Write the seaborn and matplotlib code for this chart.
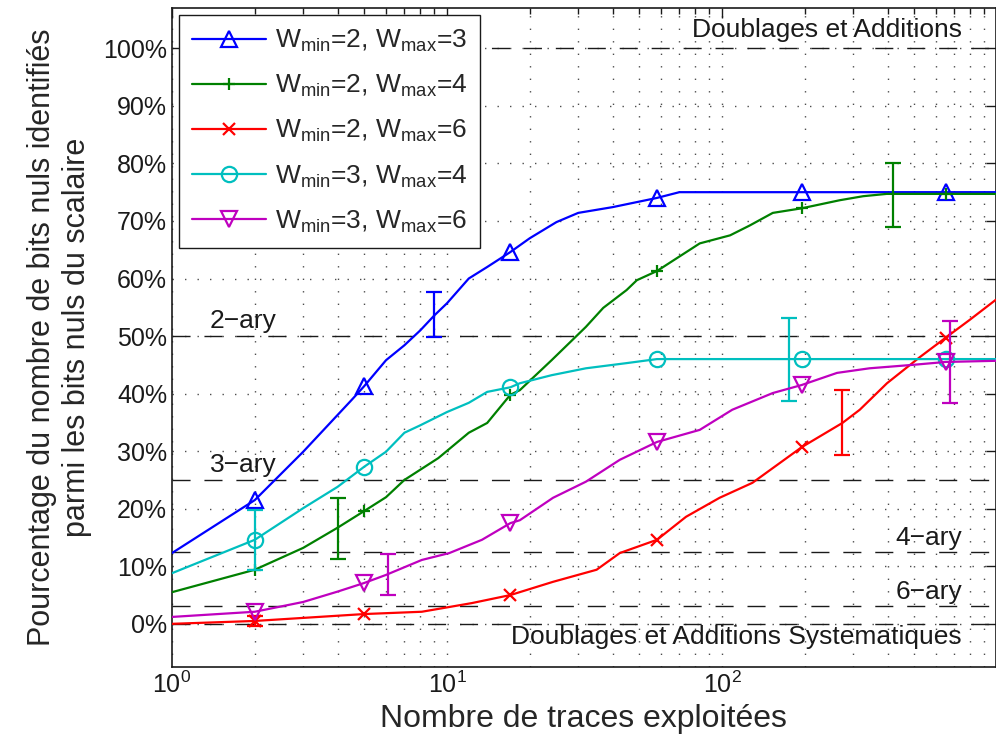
import matplotlib
matplotlib.use("Agg")
import matplotlib.pyplot as plt
import seaborn as sns
from matplotlib.ticker import FixedLocator, FuncFormatter, LogLocator

# --- data (values in %) ---
marker_x = [2, 5, 17, 58, 195, 650]

x_23 = [1, 2, 3, 4.5, 5, 6, 7, 8, 9, 10, 12, 14, 17, 20, 25, 30, 40, 58, 70, 195, 650, 990]
y_23 = [12.3, 21.5, 29.9, 38.9, 41.3, 45.8, 48.4, 51, 53.6, 55.7, 60, 62, 64.6, 67, 69.8,
        71.4, 72.4, 74, 75, 75, 75, 75]

x_24 = [1, 2, 3, 4, 5, 6, 7, 9.3, 12, 14, 17, 18.4, 24, 32, 37, 45, 49, 58, 83, 107, 126,
        153, 195, 268, 326, 397, 650, 990]
y_24 = [5.5, 9.4, 13.2, 16.7, 19.6, 22, 25, 28.8, 33.2, 34.9, 39.8, 40.6, 45.8, 51.6, 54.9,
        58, 59.7, 61.3, 66.1, 67.5, 69.2, 71.4, 72.2, 73.6, 74.3, 74.7, 74.7, 74.7]

x_26 = [1, 2, 5, 8.1, 12.3, 17, 24.3, 35, 42.5, 58, 74, 98, 129, 195, 274, 317, 398, 526,
        650, 795, 990]
y_26 = [0, 0.5, 1.7, 2.1, 3.6, 5, 7.3, 9.4, 12.3, 14.6, 18.6, 21.9, 24.5, 30.7, 34.9, 37.2,
        41.8, 46.4, 49.7, 52.8, 56.3]

x_34 = [1, 2, 3, 4, 5, 6, 7, 8, 10, 12, 14, 17, 18.4, 24, 32, 45, 58, 195, 650, 990]
y_34 = [8.8, 14.6, 20.1, 23.8, 27.3, 29.9, 33.2, 34.5, 36.8, 38.4, 40.3, 41.1, 41.8, 43.2,
        44.4, 45.3, 46, 46, 46, 46]

x_36 = [1, 2, 3, 4, 5, 6, 8.1, 10.2, 13.4, 17, 18.4, 24.3, 32, 42.5, 58, 83, 109, 153, 195,
        262, 344, 495, 650, 990]
y_36 = [1.2, 2.1, 3.8, 5.6, 7.1, 8.5, 11.1, 12.3, 14.6, 17.5, 18, 21.9, 24.7, 28.5, 31.6,
        33.7, 37.2, 40.1, 41.5, 43.6, 44.4, 45, 45.5, 45.7]

# error bars: x, centre, half width
err_23 = ([9], [53.7], [3.9])
err_24 = ([4, 420], [16.6, 74.5], [5.3, 5.5])
err_26 = ([2, 274], [0.5, 35], [0.8, 5.6])
err_34 = ([2, 175], [14.6, 46], [5.2, 7.2])
err_36 = ([6.1, 675], [8.6, 45.5], [3.6, 7.1])

ref_levels = [0, 3.125, 12.5, 25, 50, 100]

series = [
    (x_23, y_23, err_23, "#0000FF", "^", r"W$_{\mathrm{min}}$=2, W$_{\mathrm{max}}$=3"),
    (x_24, y_24, err_24, "#008000", "+", r"W$_{\mathrm{min}}$=2, W$_{\mathrm{max}}$=4"),
    (x_26, y_26, err_26, "#FF0000", "x", r"W$_{\mathrm{min}}$=2, W$_{\mathrm{max}}$=6"),
    (x_34, y_34, err_34, "#00BFBF", "o", r"W$_{\mathrm{min}}$=3, W$_{\mathrm{max}}$=4"),
    (x_36, y_36, err_36, "#BF00BF", "v", r"W$_{\mathrm{min}}$=3, W$_{\mathrm{max}}$=6"),
]

sns.set_theme(style="white")
plt.rcParams['font.family'] = ['Liberation Sans', 'DejaVu Sans']
plt.rcParams['mathtext.fontset'] = 'custom'
plt.rcParams['mathtext.rm'] = 'Liberation Sans'
plt.rcParams['mathtext.it'] = 'Liberation Sans:italic'
plt.rcParams['mathtext.bf'] = 'Liberation Sans:bold'

XMAX = 990
fig = plt.figure(figsize=(9.96, 7.45), dpi=100)
ax = fig.add_axes([172 / 996, 78 / 745, 823.8 / 996, 659 / 745])
ax.set_xscale("log")

# dashed reference levels
for lv in ref_levels:
    ax.axhline(lv, color="k", lw=1.0, dashes=(13, 10), zorder=1)

for xs, ys, err, col, mk, lab in series:
    idx = [i for i, v in enumerate(xs) if v in marker_x]
    sns.lineplot(x=xs, y=ys, ax=ax, color=col, lw=1.6, marker=mk, markevery=idx,
                 markersize=11 if mk in "^vo" else 9, markerfacecolor="none",
                 markeredgecolor=col, markeredgewidth=1.6, label=lab, zorder=3)
    ax.errorbar(err[0], err[1], yerr=err[2], fmt="none", ecolor=col, elinewidth=1.6,
                capsize=6, capthick=1.6, zorder=3)

ax.set_xlim(1, XMAX)
ax.set_ylim(-7.5, 107)
ax.yaxis.set_major_locator(FixedLocator(list(range(0, 101, 10))))
ax.yaxis.set_major_formatter(FuncFormatter(lambda v, p: f"{v:.0f}%"))
ax.xaxis.set_major_locator(LogLocator(base=10))
ax.xaxis.set_minor_locator(LogLocator(base=10, subs=range(2, 10)))

ax.grid(True, which="major", axis="y", color="0.3", lw=1.0, linestyle=(0, (1, 8)))
ax.grid(True, which="both", axis="x", color="0.3", lw=1.0, linestyle=(0, (1, 8)))

ax.tick_params(which="both", direction="in", top=True, right=True, colors="k",
               labelsize=18)
ax.tick_params(which="major", length=7, width=1)
ax.tick_params(which="minor", length=4, width=1)
for s in ax.spines.values():
    s.set_color("k")
    s.set_linewidth(1.2)

ax.set_xlabel("Nombre de traces exploitées", fontsize=23, labelpad=4)
ax.set_ylabel("Pourcentage du nombre de bits nuls identifiés\nparmi les bits nuls du scalaire",
              fontsize=22, labelpad=8)

tk = dict(fontsize=19, color="k", zorder=2)
ax.text(746, 103.1, "Doublages et Additions", ha="right", va="center", **tk)
ax.text(1.37, 52.6, "2\u2212ary", ha="left", va="center", **tk)
ax.text(1.37, 27.6, "3\u2212ary", ha="left", va="center", **tk)
ax.text(746, 14.9, "4\u2212ary", ha="right", va="center", **tk)
ax.text(746, 5.6, "6\u2212ary", ha="right", va="center", **tk)
ax.text(746, -2.3, "Doublages et Additions Systematiques", ha="right", va="center", **tk)

leg = ax.legend(loc="upper left", fontsize=19, handlelength=2.8, labelspacing=0.72,
                borderaxespad=0.25, fancybox=False, framealpha=1, edgecolor="k",
                handletextpad=0.35, borderpad=0.5)
leg.get_frame().set_linewidth(1.0)
leg.set_zorder(5)

fig.savefig("out.png", dpi=100)
